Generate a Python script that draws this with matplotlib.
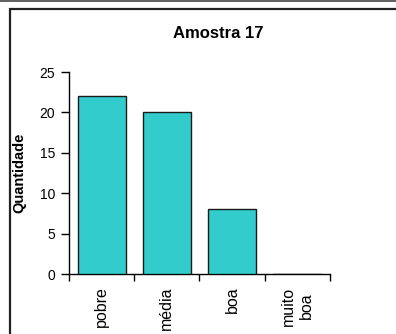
import matplotlib
matplotlib.use("Agg")
import matplotlib.pyplot as plt
from matplotlib.lines import Line2D

plt.rcParams['font.family'] = ['Liberation Sans', 'DejaVu Sans']

categories = ["pobre", "média", "boa", "muito\nboa"]
values = [22, 20, 8, 0]
yticks = [0, 5, 10, 15, 20, 25]
title = "Amostra 17"
ylabel = "Quantidade"

W, H = 396, 334
fig = plt.figure(figsize=(W / 100, H / 100), dpi=100)

# top strip line and outer frame (left and top edges; the rest lies outside the picture)
fig.add_artist(Line2D([0, 1], [1 - 0.5 / H, 1 - 0.5 / H], transform=fig.transFigure,
                      color="#444444", lw=1.2))
fx, fy = 10 / W, 1 - 8.5 / H
fig.add_artist(Line2D([fx, fx, 1.05], [-0.05, fy, fy], transform=fig.transFigure,
                      color="#222222", lw=1.6, solid_joinstyle='miter'))

ax = fig.add_axes([69 / W, (H - 274) / H, (330 - 69) / W, (274 - 72) / H])

pos = [i + 0.5 for i in range(len(categories))]
ax.bar(pos, values, width=0.735, color="#33CCCC", edgecolor="#1a1a1a", linewidth=1.0, zorder=3)

ax.set_xlim(0, len(categories))
ax.set_ylim(0, 25)
ax.set_yticks(yticks)
ax.set_yticklabels([str(v) for v in yticks], fontsize=10)
ax.tick_params(axis='y', direction='out', length=6, width=1, pad=4)

ax.set_xticks(range(len(categories) + 1))
ax.set_xticklabels([])
ax.tick_params(axis='x', which='major', direction='out', length=5, width=1)
ax.set_xticks(pos, minor=True)
ax.set_xticklabels(categories, minor=True, rotation=90, fontsize=11.5,
                   va='top', ha='center', multialignment='center')
ax.tick_params(axis='x', which='minor', length=0, pad=9)

for s in ['top', 'right']:
    ax.spines[s].set_visible(False)
for s in ['left', 'bottom']:
    ax.spines[s].set_linewidth(1)
    ax.spines[s].set_color('black')

ax.set_ylabel(ylabel, fontsize=10.5, fontweight='bold')
ax.yaxis.set_label_coords(-0.165, 0.5)

fig.text(218.5 / W, 1 - 33 / H, title, fontsize=12, fontweight='bold', ha='center', va='center')

fig.savefig("out.png", dpi=100)
